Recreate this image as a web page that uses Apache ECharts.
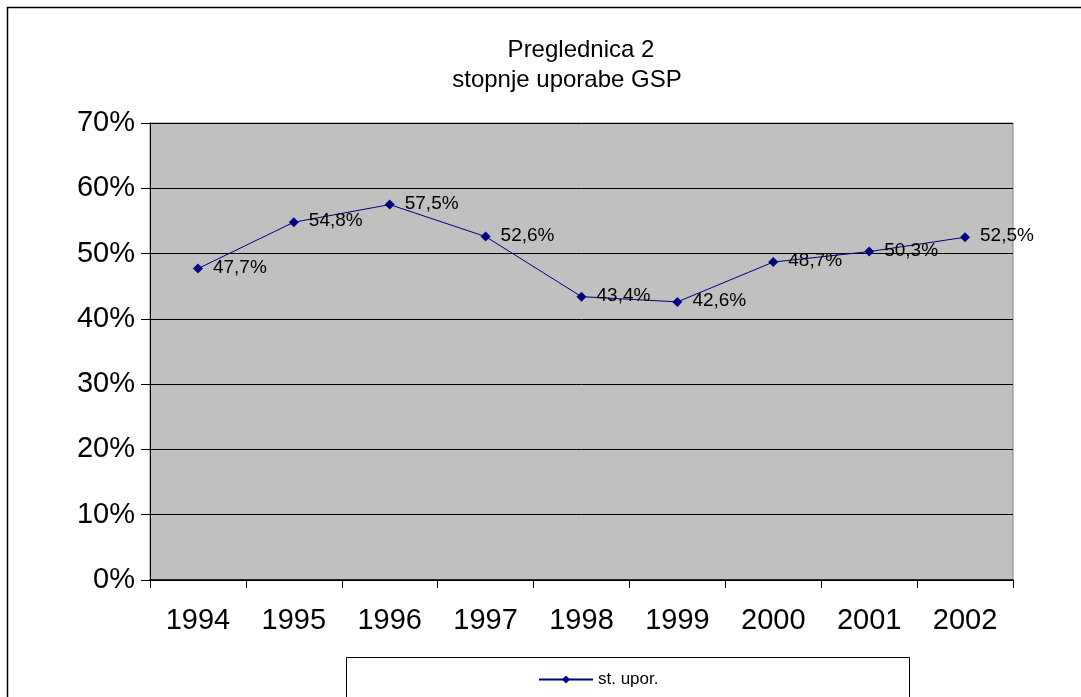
<!DOCTYPE html>
<html>
<head>
<meta charset="utf-8">
<script src="https://cdn.jsdelivr.net/npm/echarts@6/dist/echarts.min.js"></script>
<style>
  html, body { margin: 0; padding: 0; background: #fff; }
  #chart { width: 1081px; height: 697px; }
</style>
</head>
<body>
<div id="chart"></div>
<script>
// podatki
var years = ['1994', '1995', '1996', '1997', '1998', '1999', '2000', '2001', '2002']
var stUpor = [47.7, 54.8, 57.5, 52.6, 43.4, 42.6, 48.7, 50.3, 52.5]
var seriesName = 'st. upor.'

var chart = echarts.init(document.getElementById('chart'))
chart.setOption({
  animation: false,
  textStyle: { fontFamily: 'Liberation Sans, Arial, sans-serif' },
  // naslov v dveh vrsticah
  title: [
    {
      text: 'Preglednica 2',
      left: 576,
      textAlign: 'center',
      top: 33,
      textStyle: { fontSize: 24, fontWeight: 'normal', color: '#000' }
    },
    {
      text: 'stopnje uporabe GSP',
      left: 562,
      textAlign: 'center',
      top: 63,
      textStyle: { fontSize: 24, fontWeight: 'normal', color: '#000' }
    }
  ],
  // okvir grafa in legende
  graphic: [
    {
      type: 'rect',
      shape: { x: 7.5, y: 7.5, width: 1090, height: 700 },
      style: { fill: 'none', stroke: '#000', lineWidth: 1.5 },
      silent: true
    },
    {
      type: 'rect',
      shape: { x: 346.5, y: 657.5, width: 563, height: 60 },
      style: { fill: '#fff', stroke: '#000', lineWidth: 1 },
      z: 0,
      silent: true
    }
  ],
  legend: {
    data: [seriesName],
    left: 533,
    top: 666,
    itemWidth: 54,
    itemHeight: 10,
    itemGap: 4,
    textStyle: { fontSize: 17, color: '#000' },
    z: 5
  },
  grid: {
    left: 150,
    right: 68,
    top: 123,
    bottom: 117,
    show: true,
    backgroundColor: '#C0C0C0',
    borderColor: '#808080',
    borderWidth: 1
  },
  xAxis: {
    type: 'category',
    data: years,
    boundaryGap: true,
    axisLine: { lineStyle: { color: '#000', width: 1.5 } },
    axisTick: { show: true, length: 8, lineStyle: { color: '#000' } },
    axisLabel: { fontSize: 29, color: '#000', margin: 26 }
  },
  yAxis: {
    type: 'value',
    min: 0,
    max: 70,
    interval: 10,
    axisLine: { show: true, lineStyle: { color: '#000', width: 1 } },
    axisTick: { show: true, length: 9, lineStyle: { color: '#000' } },
    axisLabel: { fontSize: 29, color: '#000', margin: 15, formatter: '{value}%' },
    splitLine: { show: true, lineStyle: { color: '#000', width: 1 } }
  },
  series: [
    {
      name: seriesName,
      type: 'line',
      data: stUpor,
      color: '#000080',
      lineStyle: { color: '#000080', width: 1 },
      symbol: 'diamond',
      symbolSize: 10,
      itemStyle: { color: '#000080' },
      label: {
        show: true,
        position: 'right',
        distance: 10,
        offset: [0, -1],
        fontSize: 19,
        color: '#000',
        formatter: function (p) {
          return p.value.toFixed(1).replace('.', ',') + '%'
        }
      }
    }
  ]
})
</script>
</body>
</html>
